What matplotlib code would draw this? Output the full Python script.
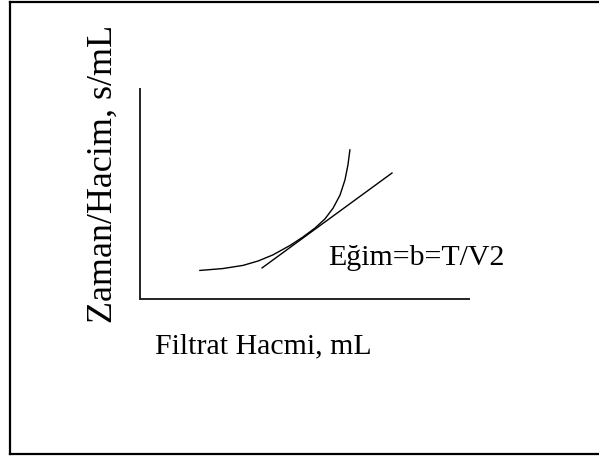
import matplotlib
matplotlib.use("Agg")
import matplotlib.pyplot as plt
from matplotlib.lines import Line2D

# filtrat hacmi vs zaman/hacim, hand-drawn curve
curve_x = [1.82, 2.52, 3.13, 3.59, 4.04, 4.56, 4.95, 5.32, 5.62, 5.87, 6.08, 6.23, 6.32, 6.38]
curve_y = [1.36, 1.45, 1.60, 1.81, 2.10, 2.55, 2.95, 3.38, 3.81, 4.33, 4.95, 5.67, 6.38, 7.10]

# tangent line (slope = b)
tangent_x = [3.71, 7.66]
tangent_y = [1.48, 6.00]

x_label = "Filtrat Hacmi, mL"
y_label = "Zaman/Hacim, s/mL"
slope_label = "Eğim=b=T/V2"

plt.rcParams['font.family'] = ['Liberation Serif', 'DejaVu Serif']

W, H = 599, 457
fig = plt.figure(figsize=(W / 100, H / 100), dpi=100)

ax = fig.add_axes([140 / W, 1 - 299 / H, (469 - 140) / W, (299 - 89) / H])
ax.plot(curve_x, curve_y, color="black", lw=1.0)
ax.plot(tangent_x, tangent_y, color="black", lw=1.0)
ax.set_xlim(0, 10)
ax.set_ylim(0, 10)
ax.set_xticks([])
ax.set_yticks([])
ax.spines['top'].set_visible(False)
ax.spines['right'].set_visible(False)
for s in ('left', 'bottom'):
    ax.spines[s].set_linewidth(1.4)
    ax.spines[s].set_color("#222222")

fig.text(328 / W, 1 - 265 / H, slope_label, fontsize=21.5, ha="left", va="baseline")
fig.text(155 / W, 1 - 353 / H, x_label, fontsize=21.5, ha="left", va="baseline")
fig.text(103 / W, 1 - 174 / H, y_label, fontsize=26, rotation=90,
         ha="center", va="center")

# frame around the drawing (no right edge in the original)
bx0, by0, by1 = 10 / W, 1 - 454 / H, 1 - 2 / H
fig.add_artist(Line2D([bx0, bx0], [by0, by1], color="black", lw=1.6))
fig.add_artist(Line2D([bx0, 1], [by1, by1], color="black", lw=1.6))
fig.add_artist(Line2D([bx0, 1], [by0, by0], color="black", lw=1.6))

fig.savefig("out.png", dpi=100)
